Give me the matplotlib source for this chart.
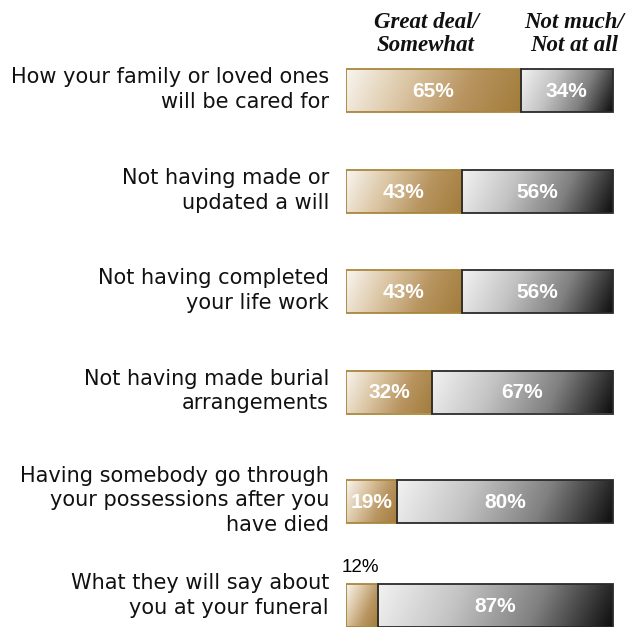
import numpy as np
import matplotlib
matplotlib.use("Agg")
import matplotlib.pyplot as plt
from matplotlib.colors import LinearSegmentedColormap

# Survey items and answer shares (%)
items = [
    "How your family or loved ones\nwill be cared for",
    "Not having made or\nupdated a will",
    "Not having completed\nyour life work",
    "Not having made burial\narrangements",
    "Having somebody go through\nyour possessions after you\nhave died",
    "What they will say about\nyou at your funeral",
]
great_deal = [65, 43, 43, 32, 19, 12]
not_much = [34, 56, 56, 67, 80, 87]
headers = ["Great deal/\nSomewhat", "Not much/\nNot at all"]

# Layout (figure pixels, measured from the top)
W, H = 629, 627
row_centers = [90.5, 191.5, 291.5, 392, 501.5, 605.5]
label_shift = [1, 1, 1, 1, 1, 10]   # lift labels above bar centre
bar_h = 43
x0_px, px_per_pct = 346, 2.692

fig = plt.figure(figsize=(W / 100, H / 100), dpi=100)
ax = fig.add_axes([x0_px / W, 0, 100 * px_per_pct / W, 1])
ax.set_xlim(0, 100)
ax.set_ylim(H, 0)
ax.axis("off")

tan_cmap = LinearSegmentedColormap.from_list(
    "tan", ["#f8f5ef", "#dcc7a6", "#b89460", "#a27c3a"])
gray_cmap = LinearSegmentedColormap.from_list(
    "grayish", ["#f2f2f2", "#c4c4c4", "#808080", "#0e0e0e"])


def gradient(width_px, height_px):
    nx = max(int(width_px), 2)
    ny = max(int(height_px), 2)
    u = np.linspace(0, 1, nx)[None, :]
    v = np.linspace(0, 1, ny)[:, None]  # 0 at top
    span = width_px + 0.45 * height_px
    t = (u * width_px + (1 - v) * 0.45 * height_px) / span
    return t


def draw_segment(left, value, yc, cmap, edge):
    top, bot = yc - bar_h / 2, yc + bar_h / 2
    g = gradient(value * px_per_pct, bar_h)
    ax.imshow(g, cmap=cmap, extent=(left, left + value, top, bot),
              origin="upper", aspect="auto", interpolation="bilinear",
              vmin=0, vmax=1, zorder=1)
    ax.add_patch(plt.Rectangle((left, top), value, bar_h, fill=False,
                               edgecolor=edge, linewidth=1.3, zorder=2))


for label, g, n, yc, dy in zip(items, great_deal, not_much,
                               row_centers, label_shift):
    draw_segment(0, g, yc, tan_cmap, "#a8863c")
    draw_segment(g, n, yc, gray_cmap, "#2a2a2a")

    if g >= 15:
        ax.text(g / 2, yc + 1, f"{g}%", ha="center", va="center",
                color="white", fontsize=15, fontweight="bold",
                family="Liberation Sans", zorder=3)
    else:
        ax.text(g / 2 - 0.5, yc - bar_h / 2 - 16, f"{g}%", ha="center",
                va="center", color="black", fontsize=13.5,
                family="Liberation Sans", zorder=3)
    ax.text(g + n / 2, yc + 1, f"{n}%", ha="center", va="center",
            color="white", fontsize=15, fontweight="bold",
            family="Liberation Sans", zorder=3)

    ax.annotate(label, xy=(0, yc), xytext=(-17, dy),
                textcoords="offset pixels", ha="right", va="center",
                fontsize=15, family="DejaVu Sans", color="#111111",
                linespacing=1.3, annotation_clip=False)

for text, xc in zip(headers, [426, 574]):
    fig.text(xc / W, 1 - 34 / H, text, ha="center", va="center",
             fontsize=16.5, style="italic", fontweight="bold",
             family="Liberation Serif", color="#111111", linespacing=1.08)

fig.savefig("out.png", dpi=100)
